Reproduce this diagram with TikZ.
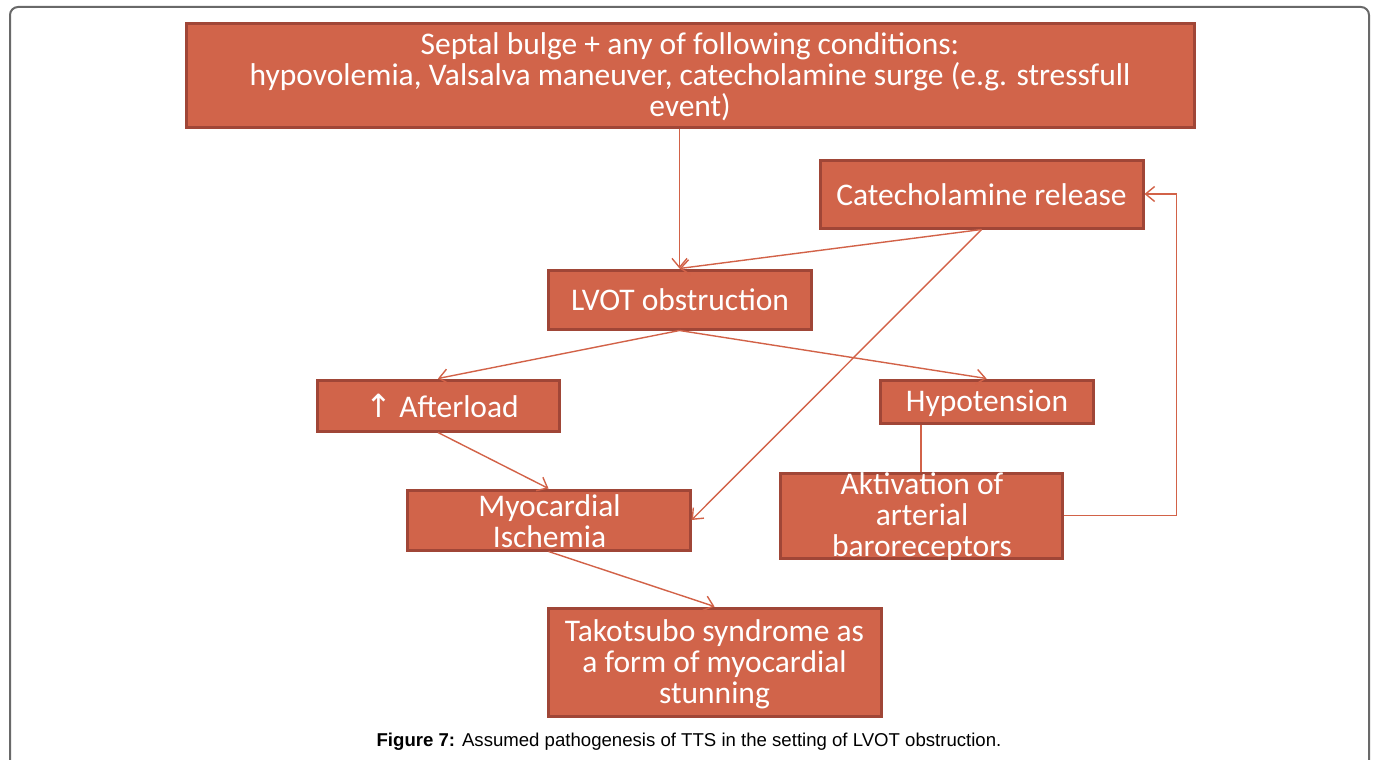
\documentclass[tikz,border=0pt]{standalone}
\usepackage{fontspec}
\setmainfont{Liberation Sans}
\newfontfamily\boxfont{Carlito}
\newfontfamily\symfont{DejaVu Sans}
\usetikzlibrary{arrows.meta,backgrounds}

\definecolor{boxfill}{RGB}{209,100,74}
\definecolor{boxline}{RGB}{160,70,55}
\definecolor{conncol}{RGB}{210,98,72}
\definecolor{framecol}{RGB}{105,105,105}

\tikzset{
    box/.style={draw=boxline, fill=boxfill, line width=3pt, inner sep=0pt},
    boxtxt/.style={text=white, align=center, inner sep=0pt,
        font=\boxfont\fontsize{31.5}{31}\selectfont},
    conn/.style={draw=conncol, line width=1.4pt,
        -{Straight Barb[length=9pt,width=15pt,line width=1.4pt]}}
}

\begin{document}
\begin{tikzpicture}[x=1pt, y=-1pt]
            \useasboundingbox (0,0) rectangle (1373,760);
            \draw[framecol, line width=2pt, rounded corners=8pt](10,760) |- (1369,7) -- (1369,760);
            % boxes
            \node[box, minimum width=1008pt, minimum height=103pt](bulge) at (690,75.5){};
            \node[box, minimum width=323pt, minimum height=68pt](cat) at (981.5,194){};
            \node[box, minimum width=263pt, minimum height=59pt](lvot) at (679.5,299.5){};
            \node[box, minimum width=242pt, minimum height=51pt](after) at (438,405.5){};
            \node[box, minimum width=213pt, minimum height=43pt](hypo) at (986.5,401.5){};
            \node[box, minimum width=283pt, minimum height=60pt](myo) at (548.5,520){};
            \node[box, minimum width=282pt, minimum height=85pt](akt) at (921,515.5){};
            \node[box, minimum width=333pt, minimum height=108pt](tako) at (714.5,662){};
            % texts
            \node[boxtxt](bulge-t) at (690,77){Septal bulge + any of following conditions:\\hypovolemia, Valsalva maneuver, catecholamine surge (e.g. stressfull\\event)};
            \node[boxtxt](cat-t) at (981.5,195){Catecholamine release};
            \node[boxtxt](lvot-t) at (680,300){LVOT obstruction};
            \node[boxtxt](after-t) at (442,406){{\symfont\fontsize{32}{32}\selectfont ↑} Afterload};
            \node[boxtxt](hypo-t) at (987,403){Hypotension};
            \node[boxtxt](myo-t) at (549.5,521){Myocardial\\Ischemia};
            \node[boxtxt](akt-t) at (922,517){Aktivation of\\arterial\\baroreceptors};
            \node[boxtxt](tako-t) at (714.5,664){Takotsubo syndrome as\\a form of myocardial\\stunning};
            % connectors
            \draw[conn](lvot.north |- bulge.south) -- (lvot.north);
            \draw[conn](cat.south) -- (lvot.north);
            \draw[conn](cat.south) -- (myo.east);
            \draw[conn](lvot.south) -- (after.north);
            \draw[conn](lvot.south) -- (hypo.north);
            \draw[conn](after.south) -- (myo.north);
            \draw[conn](myo.south) -- (tako.north);
            \draw[conn](akt.east) -- ++(113,0) |- (cat.east);
            \begin{pgfonlayer}{background}
                \draw[conn](akt.center |- hypo.south) -- (akt.center);
            \end{pgfonlayer}
            \node(cap) at (689,742){\fontsize{18.6}{18.6}\selectfont\textbf{Figure 7:} Assumed pathogenesis of TTS in the setting of LVOT obstruction.};
        \end{tikzpicture}
\end{document}
